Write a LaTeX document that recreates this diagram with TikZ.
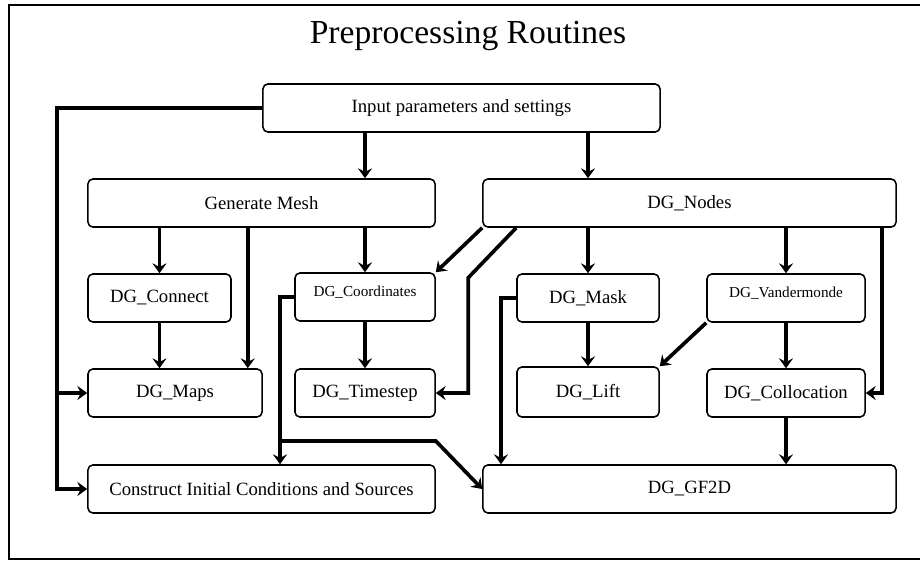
\documentclass[tikz,border=0pt]{standalone}
\usepackage{fontspec}
\setmainfont{Liberation Serif}
\usetikzlibrary{arrows.meta}
\usetikzlibrary{positioning}

\tikzset{
  routine/.style={draw, line width=1.1pt, rounded corners=3.5pt, minimum height=1.2cm,
    inner sep=0pt, font=\fontsize{13.3}{16}\selectfont},
  small/.style={font=\fontsize{10.8}{13}\selectfont},
  flow/.style={line width=2.6pt, -{Stealth[length=7pt,width=10pt,inset=2.5pt]}}
}
\newcommand{\up}[1]{\raisebox{8pt}{#1}}

\begin{document}
\begin{tikzpicture}[x=0.025cm, y=-0.025cm]
  \useasboundingbox (0,0) rectangle (920,560);
  % Marco
  \draw[line width=1pt] (925,5) -- (9,5) -- (9,559) -- (925,559);
  \node (title) at (468,36) {\fontsize{23.9}{28}\selectfont Preprocessing Routines};

  % Nodos
  \node[routine, minimum width=9.925cm] (input) at (461.5,108) {Input parameters and settings};
  \node[routine, minimum width=8.675cm] (gen) at (261.5,203) {Generate Mesh};
  \node[routine, minimum width=10.325cm] (nodes) at (689.5,203) {DG\_Nodes};
  \node[routine, minimum width=3.575cm] (conn) at (159.5,298) {DG\_Connect};
  \node[routine, small, minimum width=3.5cm] (coord) at (365,297) {\up{DG\_Coordinates}};
  \node[routine, minimum width=3.55cm] (mask) at (588,298) {DG\_Mask};
  \node[routine, small, minimum width=3.95cm] (vand) at (786,298) {\up{DG\_Vandermonde}};
  \node[routine, minimum width=4.35cm] (maps) at (175,393) {DG\_Maps};
  \node[routine, minimum width=3.5cm] (time) at (365,393) {DG\_Timestep};
  \node[routine, minimum width=3.55cm, minimum height=1.25cm] (lift) at (588,392) {DG\_Lift};
  \node[routine, minimum width=3.95cm] (coll) at (786,393) {DG\_Collocation};
  \node[routine, minimum width=8.675cm] (cons) at (261.5,489) {Construct Initial Conditions and Sources};
  \node[routine, minimum width=10.325cm] (gf) at (689.5,489) {DG\_GF2D};

  % Puntos de paso
  \coordinate (rail) at (57,108);
  \coordinate (gm) at ([xshift=-0.375cm]maps.north east);
  \coordinate (cj) at (280,441);
  \coordinate (mj) at (501,298);

  % Conexiones
  \draw[flow] (input.south -| coord) -- (gen.north -| coord);
  \draw[flow] (input.south -| mask) -- (nodes.north -| mask);
  \draw[flow] (input.west) -- (rail) -- (rail |- cons) -- (cons.west);
  \draw[flow] (rail |- maps) -- (maps.west);

  \draw[flow] (gen.south -| conn) -- (conn.north);
  \draw[flow] (gen.south -| gm) -- (gm);
  \draw[flow] (gen.south -| coord) -- (coord.north);
  \draw[flow] (conn.south) -- (maps.north -| conn);
  \draw[flow] (coord.south) -- (time.north);
  \draw[flow] (coord.west) -| (cj) -- (cons.north -| cj);
  \draw[flow] (cj) -- (cj -| cons.east) -- (gf.west);

  \draw[flow] (nodes.south west) -- (coord.north east);
  \draw[flow] (nodes.south -| mask.west) -- ++(-48,50) |- (time.east);
  \draw[flow] (nodes.south -| mask) -- (mask.north);
  \draw[flow] (nodes.south -| vand) -- (vand.north);
  \draw[flow] ([xshift=-0.375cm]nodes.south east) |- (coll.east);

  \draw[flow] (mask.south) -- (lift.north);
  \draw[flow] (mask.west) -- (mj) -- (gf.north -| mj);
  \draw[flow] (vand.south west) -- (lift.north east);
  \draw[flow] (vand.south) -- (coll.north);
  \draw[flow] (coll.south) -- (gf.north -| coll);
\end{tikzpicture}
\end{document}
